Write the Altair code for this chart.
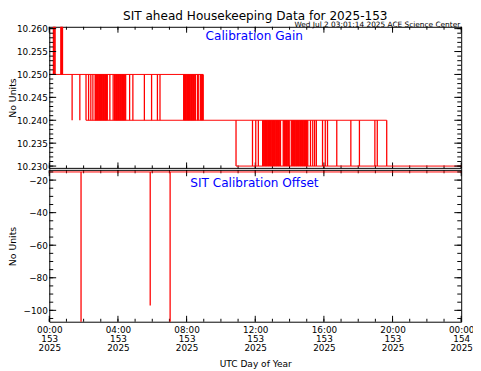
import json
import altair as alt
import pandas as pd

# ---------------- data ----------------
hour_ticks = [0, 4, 8, 12, 16, 20, 24]
hour_labels = [["00:00", "153", "2025"], ["04:00", "153", "2025"], ["08:00", "153", "2025"],
               ["12:00", "153", "2025"], ["16:00", "153", "2025"], ["20:00", "153", "2025"],
               ["00:00", "154", "2025"]]
hour_minor = list(range(0, 25))

gain_ticks = [10.230, 10.235, 10.240, 10.245, 10.250, 10.255, 10.260]
offset_ticks = [-100, -80, -60, -40, -20]

# Calibration Gain: flat levels (start hour, end hour, value)
gain_seg_start = [0.0, 2.14, 10.88]
gain_seg_end = [8.97, 19.66, 24.0]
gain_seg_value = [10.250, 10.240, 10.230]

# excursions above the top of the panel (from 10.250)
gain_up_hours = [0.24, 0.29, 0.34, 0.67, 0.72, 0.77]
gain_up_value = 10.2604

# drops 10.250 -> 10.240
gain_dn_hours = [1.33, 1.78, 2.14, 2.29, 2.42, 2.54, 2.67, 2.70, 2.74, 2.78, 2.82, 2.85, 2.89,
                 2.93, 2.97, 3.00, 3.04, 3.08, 3.12, 3.15, 3.19, 3.23, 3.27, 3.30, 3.34, 3.38,
                 3.53, 3.72, 3.80, 3.84, 3.88, 3.92, 3.95, 3.99, 4.03, 4.07, 4.11, 4.14, 4.18,
                 4.22, 4.26, 4.30, 4.33, 4.37, 4.41, 4.45, 4.68, 4.87, 5.54, 5.96, 6.30, 6.45,
                 7.83, 7.87, 7.91, 7.94, 7.98, 8.02, 8.06, 8.10, 8.13, 8.17, 8.21, 8.25, 8.29,
                 8.32, 8.36, 8.40, 8.44, 8.48, 8.52, 8.64, 8.68, 8.80, 8.84, 8.88, 8.92, 8.97]

# toggles 10.240 <-> 10.230
gain_lo_hours = [10.88, 11.84, 12.03, 12.18, 12.43, 12.47, 12.51, 12.55, 12.59, 12.62, 12.66,
                 12.70, 12.74, 12.78, 12.82, 12.85, 12.89, 12.93, 12.97, 13.01, 13.05, 13.08,
                 13.12, 13.16, 13.20, 13.24, 13.28, 13.31, 13.35, 13.39, 13.43, 13.47, 13.63,
                 13.67, 13.71, 13.75, 13.79, 13.82, 13.86, 13.90, 13.94, 13.98, 14.10, 14.14,
                 14.18, 14.22, 14.25, 14.29, 14.33, 14.37, 14.41, 14.45, 14.48, 14.52, 14.56,
                 14.60, 14.64, 14.68, 14.71, 14.75, 14.79, 14.83, 14.87, 14.91, 14.94, 14.98,
                 15.02, 15.06, 15.22, 15.35, 15.46, 15.56, 15.92, 16.08, 16.21, 16.75, 17.57,
                 18.07, 18.97, 19.11, 19.66]

# SIT Calibration Offset
offset_level = -15
offset_spike_hours = [1.85, 5.88, 7.04]
offset_spike_values = [-107, -97, -107]

gain_domain = [10.2295, 10.2604]
offset_domain = [-107, -14]

# ---------------- layout ----------------
W = 419
H_TOP = 144
GAP = 2
H_ALL = 300
RED = "#ff0000"
BLUE = "#0000ff"
FONT = "DejaVu Sans"

x_scale = alt.Scale(domain=[0, 24], nice=False, zero=False)
gain_y = alt.Scale(domain=gain_domain, range=[H_TOP, 0], nice=False, zero=False)
off_y = alt.Scale(domain=offset_domain, range=[H_ALL, H_TOP + GAP], nice=False, zero=False)

label_expr = json.dumps(hour_labels) + "[round(datum.value / 4)]"

x_axis = alt.Axis(values=hour_ticks, labelExpr=label_expr, title="UTC Day of Year",
                  orient="bottom", ticks=False, domain=False, grid=False,
                  labelFont=FONT, labelFontSize=9, labelColor="black", labelPadding=4,
                  labelBaseline="top", labelLineHeight=9, labelFlush=False,
                  labelOverlap=False, labelBound=False,
                  titleFont=FONT, titleFontSize=9.2, titleFontWeight="normal",
                  titleColor="black", titleY=45.5, titleBaseline="alphabetic")

gain_axis = alt.Axis(values=gain_ticks, format=".3f", orient="left", title="No Units",
                     ticks=False, domain=False, grid=False,
                     labelFont=FONT, labelFontSize=9, labelColor="black", labelPadding=2,
                     labelFlush=False, labelOverlap=False, labelBound=False,
                     titleFont=FONT, titleFontSize=9.5, titleFontWeight="normal",
                     titleColor="black", titleX=-34.5, titleY=H_TOP / 2, titleAngle=270,
                     titleBaseline="alphabetic", titleAlign="center")

off_axis = alt.Axis(values=offset_ticks, format="d", orient="left", title="No Units",
                    ticks=False, domain=False, grid=False,
                    labelFont=FONT, labelFontSize=9, labelColor="black", labelPadding=2,
                    labelFlush=False, labelOverlap=False, labelBound=False,
                    titleFont=FONT, titleFontSize=9.5, titleFontWeight="normal",
                    titleColor="black", titleX=-34.5, titleY=(H_ALL + H_TOP + GAP) / 2,
                    titleAngle=270, titleBaseline="alphabetic", titleAlign="center")


def xticks(hours, y0, y1):
    return alt.Chart(pd.DataFrame({"h": hours})).mark_rule(color="black", strokeWidth=1).encode(
        x=alt.X("h:Q", scale=x_scale, axis=x_axis), y=alt.value(y0), y2=alt.value(y1))


def yticks(vals, scale, axis, x0, x1):
    return alt.Chart(pd.DataFrame({"v": vals})).mark_rule(color="black", strokeWidth=1).encode(
        y=alt.Y("v:Q", scale=scale, axis=axis), x=alt.value(x0), x2=alt.value(x1))


def text_layer(txt, x, y, size, color, align):
    return alt.Chart(pd.DataFrame({"t": [txt]})).mark_text(
        font=FONT, fontSize=size, color=color, align=align, baseline="alphabetic").encode(
        text="t:N", x=alt.value(x), y=alt.value(y))


# ---------------- gain panel ----------------
seg_df = pd.DataFrame({"start": gain_seg_start, "end": gain_seg_end, "value": gain_seg_value})
gain_levels = alt.Chart(seg_df).mark_rule(color=RED, strokeWidth=1).encode(
    x=alt.X("start:Q", scale=x_scale, axis=x_axis), x2="end:Q",
    y=alt.Y("value:Q", scale=gain_y, axis=gain_axis))

up_df = pd.DataFrame({"h": gain_up_hours, "a": [10.250] * len(gain_up_hours),
                      "b": [gain_up_value] * len(gain_up_hours)})
dn_df = pd.DataFrame({"h": gain_dn_hours, "a": [10.250] * len(gain_dn_hours),
                      "b": [10.240] * len(gain_dn_hours)})
lo_df = pd.DataFrame({"h": gain_lo_hours, "a": [10.240] * len(gain_lo_hours),
                      "b": [10.230] * len(gain_lo_hours)})
gain_spikes = alt.Chart(pd.concat([up_df, dn_df, lo_df])).mark_rule(color=RED, strokeWidth=1.3).encode(
    x=alt.X("h:Q", scale=x_scale, axis=x_axis),
    y=alt.Y("a:Q", scale=gain_y, axis=gain_axis), y2="b:Q")

gain_minor = [round(10.230 + 0.001 * i, 3) for i in range(31)]
gain_panel = alt.layer(
    gain_levels, gain_spikes,
    yticks(gain_ticks, gain_y, gain_axis, 0, 7), yticks(gain_minor, gain_y, gain_axis, 0, 4),
    yticks(gain_ticks, gain_y, gain_axis, W, W - 7), yticks(gain_minor, gain_y, gain_axis, W, W - 4),
)

# ---------------- offset panel ----------------
off_level_df = pd.DataFrame({"start": [0.0], "end": [24.0], "value": [offset_level]})
off_levels = alt.Chart(off_level_df).mark_rule(color=RED, strokeWidth=1).encode(
    x=alt.X("start:Q", scale=x_scale, axis=x_axis), x2="end:Q",
    y=alt.Y("value:Q", scale=off_y, axis=off_axis))
off_sp_df = pd.DataFrame({"h": offset_spike_hours, "a": [offset_level] * len(offset_spike_hours),
                          "b": offset_spike_values})
off_spikes = alt.Chart(off_sp_df).mark_rule(color=RED, strokeWidth=1.3).encode(
    x=alt.X("h:Q", scale=x_scale, axis=x_axis),
    y=alt.Y("a:Q", scale=off_y, axis=off_axis), y2="b:Q")

off_minor = [-105 + 5 * i for i in range(19)]
off_panel = alt.layer(
    off_levels, off_spikes,
    yticks(offset_ticks, off_y, off_axis, 0, 7), yticks(off_minor, off_y, off_axis, 0, 4),
    yticks(offset_ticks, off_y, off_axis, W, W - 7), yticks(off_minor, off_y, off_axis, W, W - 4),
)

frame_and_ticks = alt.layer(
    xticks(hour_ticks, 0, 6), xticks(hour_minor, 0, 3),
    xticks(hour_ticks, H_TOP, H_TOP - 6), xticks(hour_minor, H_TOP, H_TOP - 3),
    xticks(hour_ticks, H_TOP + GAP, H_TOP + GAP + 6), xticks(hour_minor, H_TOP + GAP, H_TOP + GAP + 3),
    xticks(hour_ticks, H_ALL, H_ALL - 6), xticks(hour_minor, H_ALL, H_ALL - 3),
    alt.Chart(pd.DataFrame({"a": [0]})).mark_rule(color="black", strokeWidth=1).encode(
        x=alt.value(0), x2=alt.value(W), y=alt.value(H_TOP)),
    alt.Chart(pd.DataFrame({"a": [0]})).mark_rule(color="black", strokeWidth=1).encode(
        x=alt.value(0), x2=alt.value(W), y=alt.value(H_TOP + GAP)),
)

texts = alt.layer(
    text_layer("SIT ahead Housekeeping Data for 2025-153", W / 2, -7.0, 12.3, "black", "center"),
    text_layer("Wed Jul  2 03:01:14 2025 ACE Science Center", 418, -0.3, 7.5, "black", "right"),
    text_layer("Calibration Gain", 208.5, 13.3, 12.3, BLUE, "center"),
    text_layer("SIT Calibration Offset", 208.7, 162.5, 12.3, BLUE, "center"),
)

chart = alt.layer(frame_and_ticks, gain_panel, off_panel, texts).resolve_scale(y="independent").properties(
    width=W, height=H_ALL,
    autosize=alt.AutoSizeParams(type="none"),
    padding={"left": 42, "top": 16, "right": 12, "bottom": 47},
    background="white",
).configure_view(stroke="black", strokeWidth=1)

chart.save("out.html", embed_options={"renderer": "svg", "actions": False})
